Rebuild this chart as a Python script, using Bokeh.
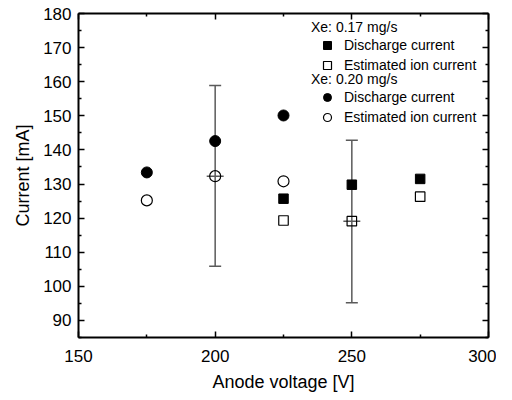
from bokeh.plotting import figure
from bokeh.models import (ColumnDataSource, Range1d, FixedTicker, LinearAxis,
                          Whisker, TeeHead, Legend, LegendItem, CustomJSTickFormatter)
from bokeh.embed import file_html
from bokeh.resources import INLINE

# --- data ---
v_017 = [225, 250, 275]
discharge_017 = [125.7, 129.8, 131.5]
ion_017 = [119.3, 119.1, 126.3]

v_020 = [175, 200, 225]
discharge_020 = [133.4, 142.6, 150.1]
ion_020 = [125.2, 132.3, 130.8]

# error bars (on estimated ion current points)
err_v = [200, 250]
err_mid = [132.3, 119.1]
err_low = [105.9, 95.2]
err_high = [158.9, 142.8]
err_xhalf = [3.1, 3.1]

x_major = [150, 200, 250, 300]
x_minor = [175, 225, 275]
y_major = [90, 100, 110, 120, 130, 140, 150, 160, 170, 180]
y_minor = [85, 95, 105, 115, 125, 135, 145, 155, 165, 175]

FONT = "Liberation Sans"
ERR_COLOR = "#5a5a5a"

p = figure(frame_width=410, frame_height=324,
           x_range=Range1d(150, 300), y_range=Range1d(85, 180),
           output_backend="svg", toolbar_location=None,
           min_border_left=78, min_border_right=8,
           min_border_top=13, min_border_bottom=60,
           background_fill_color="white", border_fill_color="white")
p.grid.visible = False
p.outline_line_color = None

p.xaxis.ticker = FixedTicker(ticks=x_major, minor_ticks=x_minor)
p.yaxis.ticker = FixedTicker(ticks=y_major, minor_ticks=y_minor)
p.xaxis.axis_label = "Anode voltage [V]"
p.yaxis.axis_label = "Current [mA]"

for ax in p.xaxis + p.yaxis:
    ax.axis_line_width = 2
    ax.axis_line_color = "black"
    ax.major_tick_in = 6
    ax.major_tick_out = 0
    ax.minor_tick_in = 3
    ax.minor_tick_out = 0
    ax.major_tick_line_width = 1.5
    ax.minor_tick_line_width = 1.5
    ax.major_tick_line_color = "black"
    ax.minor_tick_line_color = "black"
    ax.major_label_text_font = FONT
    ax.major_label_text_font_size = "17px"
    ax.major_label_text_color = "black"
    ax.axis_label_text_font = FONT
    ax.axis_label_text_font_size = "18px"
    ax.axis_label_text_font_style = "normal"
    ax.axis_label_text_color = "black"
    ax.axis_label_standoff = 7
p.xaxis.major_label_standoff = 12
p.yaxis.major_label_standoff = 7

# mirrored axes (ticks only) on top and right
for place, tk in (("above", FixedTicker(ticks=x_major, minor_ticks=x_minor)),
                  ("right", FixedTicker(ticks=y_major, minor_ticks=y_minor))):
    ax = LinearAxis(ticker=tk, formatter=CustomJSTickFormatter(code="return ''"),
                    axis_line_width=2, major_tick_in=6, major_tick_out=0,
                    minor_tick_in=3, minor_tick_out=0,
                    major_tick_line_width=1.5, minor_tick_line_width=1.5,
                    major_label_standoff=0, major_label_text_font_size="1px")
    p.add_layout(ax, place)

# error bars
err_src = ColumnDataSource(dict(
    x=err_v, y=err_mid, lower=err_low, upper=err_high,
    x0=[a - b for a, b in zip(err_v, err_xhalf)],
    x1=[a + b for a, b in zip(err_v, err_xhalf)],
))
p.add_layout(Whisker(source=err_src, base="x", lower="lower", upper="upper",
                     dimension="height", line_color=ERR_COLOR, line_width=1.5,
                     upper_head=TeeHead(size=12, line_color=ERR_COLOR, line_width=1.5),
                     lower_head=TeeHead(size=12, line_color=ERR_COLOR, line_width=1.5)))
p.segment(x0="x0", x1="x1", y0="y", y1="y", source=err_src,
          line_color=ERR_COLOR, line_width=1.5)

# markers
r_d17 = p.scatter(v_017, discharge_017, marker="square", size=9.5,
                  fill_color="black", line_color="black")
r_i17 = p.scatter(v_017, ion_017, marker="square", size=9.5,
                  fill_color=None, line_color="black", line_width=1.2)
r_d20 = p.scatter(v_020, discharge_020, marker="circle", size=11,
                  fill_color="black", line_color="black")
r_i20 = p.scatter(v_020, ion_020, marker="circle", size=11,
                  fill_color=None, line_color="black", line_width=1.2)


def make_legend(title, items, loc):
    lg = Legend(items=items, title=title, location=loc,
                title_text_font=FONT, title_text_font_size="14px",
                title_text_font_style="normal", title_text_color="black",
                title_standoff=0,
                label_text_font=FONT, label_text_font_size="14px",
                label_text_color="black",
                glyph_width=32, glyph_height=20, label_height=18,
                label_standoff=1, spacing=0, padding=0, margin=0,
                border_line_color=None, background_fill_alpha=0)
    p.add_layout(lg)


make_legend("Xe: 0.17 mg/s",
            [LegendItem(label="Discharge current", renderers=[r_d17]),
             LegendItem(label="Estimated ion current", renderers=[r_i17])],
            (233, 262))
make_legend("Xe: 0.20 mg/s",
            [LegendItem(label="Discharge current", renderers=[r_d20]),
             LegendItem(label="Estimated ion current", renderers=[r_i20])],
            (233, 210))

open("out.html", "w").write(file_html(p, INLINE))
